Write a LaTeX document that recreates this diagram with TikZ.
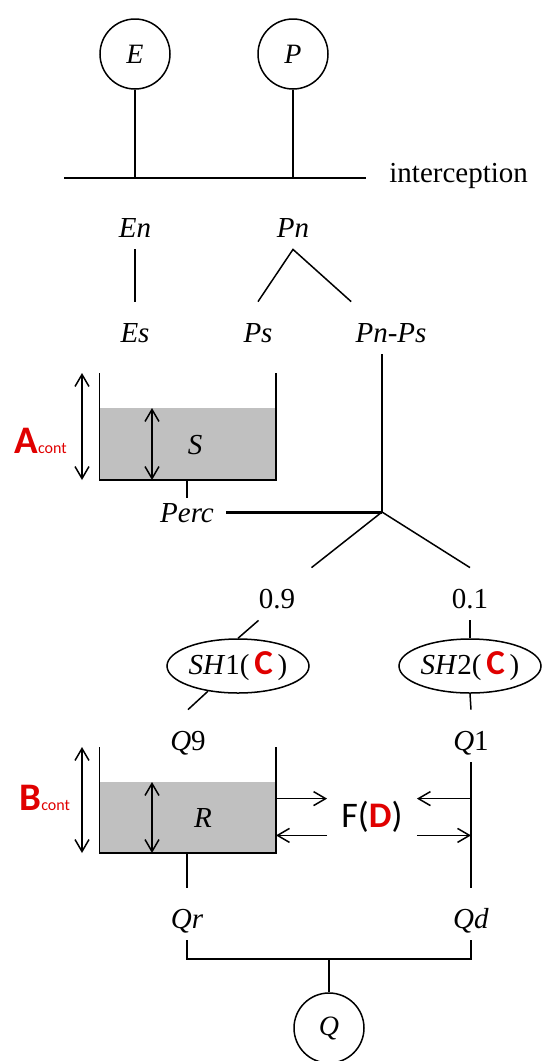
\documentclass[tikz,border=0pt]{standalone}
\usepackage{fontspec}
\setmainfont{Liberation Serif}
\newfontfamily\hydsans{Carlito}
\usetikzlibrary{arrows.meta,shapes.geometric}
\definecolor{hydRed}{HTML}{E00000}
\definecolor{hydFill}{HTML}{C0C0C0}
\newcommand{\hydpar}[2][17.5]{{\hydsans\bfseries\fontsize{#1}{#1}\selectfont\color{hydRed}#2}}
\newcommand{\hydcont}{{\hydsans\fontsize{8}{8}\selectfont\color{hydRed}cont}}
\tikzset{
  hyd line/.style={draw=black, line width=0.75pt},
  hyd bold/.style={draw=black, line width=1.4pt},
  hyd flux/.style={hyd line, -{Straight Barb[length=6pt,width=7pt]}},
  hyd level/.style={hyd line, {Straight Barb[length=6pt,width=7pt]}-{Straight Barb[length=6pt,width=7pt]}},
  hyd input/.style={circle, draw=black, line width=0.75pt, minimum size=35pt, inner sep=0pt, font=\fontsize{14}{16}\selectfont\itshape},
  hyd label/.style={anchor=base, inner xsep=2pt, inner ysep=6pt, text height=14pt, text depth=0pt, font=\fontsize{14.5}{17}\selectfont},
  hyd name/.style={inner sep=0pt, font=\fontsize{14.5}{17}\selectfont\itshape},
  hyd route/.style={ellipse, draw=black, line width=0.75pt, minimum width=71pt, minimum height=27pt, inner sep=0pt, font=\fontsize{14.5}{17}\selectfont},
  hyd exchange/.style={inner xsep=7pt, inner ysep=0pt, minimum height=18pt, font=\hydsans\fontsize{18}{18}\selectfont},
  hyd param/.style={anchor=base west, inner sep=0pt},
}

\begin{document}
\begin{tikzpicture}[x=0.5pt, y=-0.5pt]
  \useasboundingbox (0,0) rectangle (542,1061);

  % Inputs and interception
  \node[hyd input] (E) at (135,54) {E};
  \node[hyd input] (P) at (293,54) {P};
  \coordinate (iL) at (64,178);
  \coordinate (iR) at (366,178);
  \draw[hyd bold] (iL) -- (iR);
  \draw[hyd line] (E) -- (E |- iL);
  \draw[hyd line] (P) -- (P |- iL);
  \node[anchor=base west, inner sep=0pt, font=\fontsize{14.5}{17}\selectfont] (icpt) at (389,182) {interception};

  % Net quantities
  \node[hyd label] (En) at (135,237) {\textit{En}};
  \node[hyd label] (Pn) at (293,237) {\textit{Pn}};
  \node[hyd label] (Es) at (135,342) {\textit{Es}};
  \node[hyd label] (Ps) at (258,342) {\textit{Ps}};
  \node[hyd label] (PnPs) at (391,342) {\textit{Pn-Ps}};
  \draw[hyd line] (En) -- (Es);
  \draw[hyd line] (Ps.north) -- (Pn.south) -- (PnPs.north west);

  % Stores: production S and routing R
  \foreach \name/\top/\lev/\bot in {S/373/408/480, R/747/782/853} {
    \fill[hydFill] (99.5,\lev) rectangle (276,\bot);
    \draw[hyd line] (99.5,\top) -- (99.5,\bot) -- (276,\bot) -- (276,\top);
    \draw[hyd level] (82,\top) -- (82,\bot);
    \draw[hyd level] (152,\lev) -- (152,\bot);
    \coordinate (\name bot) at (187,\bot);
    \coordinate (\name wall) at (276,\bot);
  }
  \node[hyd name] (S) at (195,445) {S};
  \node[hyd name] (R) at (203,818) {R};
  \node[hyd param] (Acont) at (14,453) {\hydpar[19.5]{A}\hydcont};
  \node[hyd param] (Bcont) at (19,810) {\hydpar[19.5]{B}\hydcont};

  % Percolation joins Pn-Ps
  \node[hyd label, text height=9.5pt, inner ysep=2.5pt, inner xsep=6pt] (Perc) at (187,522) {\textit{Perc}};
  \coordinate (jn) at (382,512);
  \draw[hyd line] (Sbot) -- (Perc.north);
  \draw[hyd line] (PnPs.south -| jn) -- (jn);
  \draw[hyd bold] (Perc.east) -- (Perc.east -| jn);

  % Split 0.9 / 0.1 and unit hydrographs
  \node[hyd label, inner xsep=8pt] (p09) at (277,608) {0.9};
  \node[hyd label] (p01) at (470,608) {0.1};
  \draw[hyd line] (p09.north east) -- (jn) -- (p01.north);
  \node[hyd route] (SH1) at (238,666) {\textit{SH}1(\,\hydpar{C}\,)};
  \node[hyd route] (SH2) at (470,666) {\textit{SH}2(\,\hydpar{C}\,)};
  \draw[hyd line] (p09.235) -- (SH1.north);
  \draw[hyd line] (p01.south) -- (SH2.north);

  \node[hyd label] (Q9) at (188,750) {\textit{Q}9};
  \node[hyd label] (Q1) at (471,750) {\textit{Q}1};
  \draw[hyd line] (SH1.220) -- (Q9.north);
  \draw[hyd line] (SH2.south) -- (Q1.north);

  % Exchange F(D)
  \node[hyd label] (Qr) at (187,928) {\textit{Qr}};
  \node[hyd label] (Qd) at (471,928) {\textit{Qd}};
  \draw[hyd line] (Q1.south) -- (Qd.north);
  \draw[hyd line] (Rbot) -- (Qr.north);
  \node[hyd exchange] (FD) at (372,817) {F(\hydpar[18]{D})};
  \draw[hyd flux] (FD.north west -| Rwall) -- (FD.north west);
  \draw[hyd flux] (FD.south west) -- (FD.south west -| Rwall);
  \draw[hyd flux] (FD.north east -| Q1.south) -- (FD.north east);
  \draw[hyd flux] (FD.south east) -- (FD.south east -| Q1.south);

  % Total streamflow
  \coordinate (bk) at (329,959);
  \node[hyd input] (Q) at (329,1028) {Q};
  \draw[hyd line] (Qr.south) |- (bk) -| (Qd.south);
  \draw[hyd line] (bk) -- (Q);
\end{tikzpicture}
\end{document}
